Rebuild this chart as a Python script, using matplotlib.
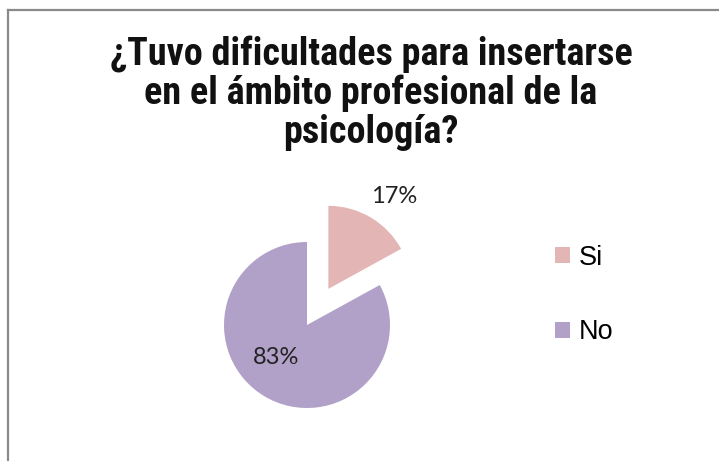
import matplotlib
matplotlib.use("Agg")
import matplotlib.pyplot as plt
from matplotlib.lines import Line2D
from matplotlib import font_manager

title_lines = ["¿Tuvo dificultades para insertarse", "en el ámbito profesional de la", "psicología?"]
categories = ["Si", "No"]
values = [17, 83]
colors = ["#E4B5B5", "#B1A1C8"]

def has_bold(fam):
    return any(f.name == fam and (f.weight if isinstance(f.weight, int) else 700 if f.weight == "bold" else 400) >= 700
               for f in font_manager.fontManager.ttflist)

title_font = "Liberation Sans"
for cand in ["Roboto Condensed", "PT Sans Narrow", "Liberation Sans"]:
    if has_bold(cand):
        title_font = cand
        break

W, H = 719, 461
fig = plt.figure(figsize=(W / 100, H / 100), dpi=100)
fig.patch.set_facecolor("white")
renderer = fig.canvas.get_renderer()

# frame lines (top and left)
fig.add_artist(Line2D([8 / W, 8 / W], [0, 1 - 10 / H], color="#8a8a8a", lw=1.6, transform=fig.transFigure))
fig.add_artist(Line2D([8 / W, 1], [1 - 10 / H, 1 - 10 / H], color="#8a8a8a", lw=1.6, transform=fig.transFigure))

# fit title size so that the first line spans ~521 px
probe = fig.text(0, 0, title_lines[0], fontsize=20, fontweight="bold", family=title_font)
w20 = probe.get_window_extent(renderer).width
probe.remove()
tsize = 20 * 521 / w20
for i, line in enumerate(title_lines):
    fig.text(371 / W, 1 - (65 + 39 * i) / H, line, ha="center", va="baseline", fontsize=tsize,
             fontweight="bold", family=title_font, color="#111111")

cx, cy = 307, H - 325
half = 150
ax = fig.add_axes([(cx - half) / W, (cy - half) / H, 2 * half / W, 2 * half / H])
ax.axis("off")

wedges, texts, autotexts = ax.pie(values, colors=colors, startangle=90, counterclock=False,
                                  radius=0.83, explode=[0.42, 0],
                                  autopct="%d%%", pctdistance=0.6,
                                  textprops=dict(fontsize=17, family="Lato", color="#222222"))
ax.set_xlim(-1.5, 1.5)
ax.set_ylim(-1.5, 1.5)
ax.set_aspect("equal")
autotexts[0].set_position((0.87, 1.29))
autotexts[1].set_position((-0.31, -0.32))

fig.legend(wedges, categories, loc="center left", bbox_to_anchor=(531 / W, 1 - 295 / H),
           frameon=False, handlelength=0.55, handleheight=0.55, handletextpad=0.3,
           labelspacing=1.8, prop=dict(family="Liberation Sans", size=19.5))

fig.savefig("out.png", dpi=100, facecolor="white")
